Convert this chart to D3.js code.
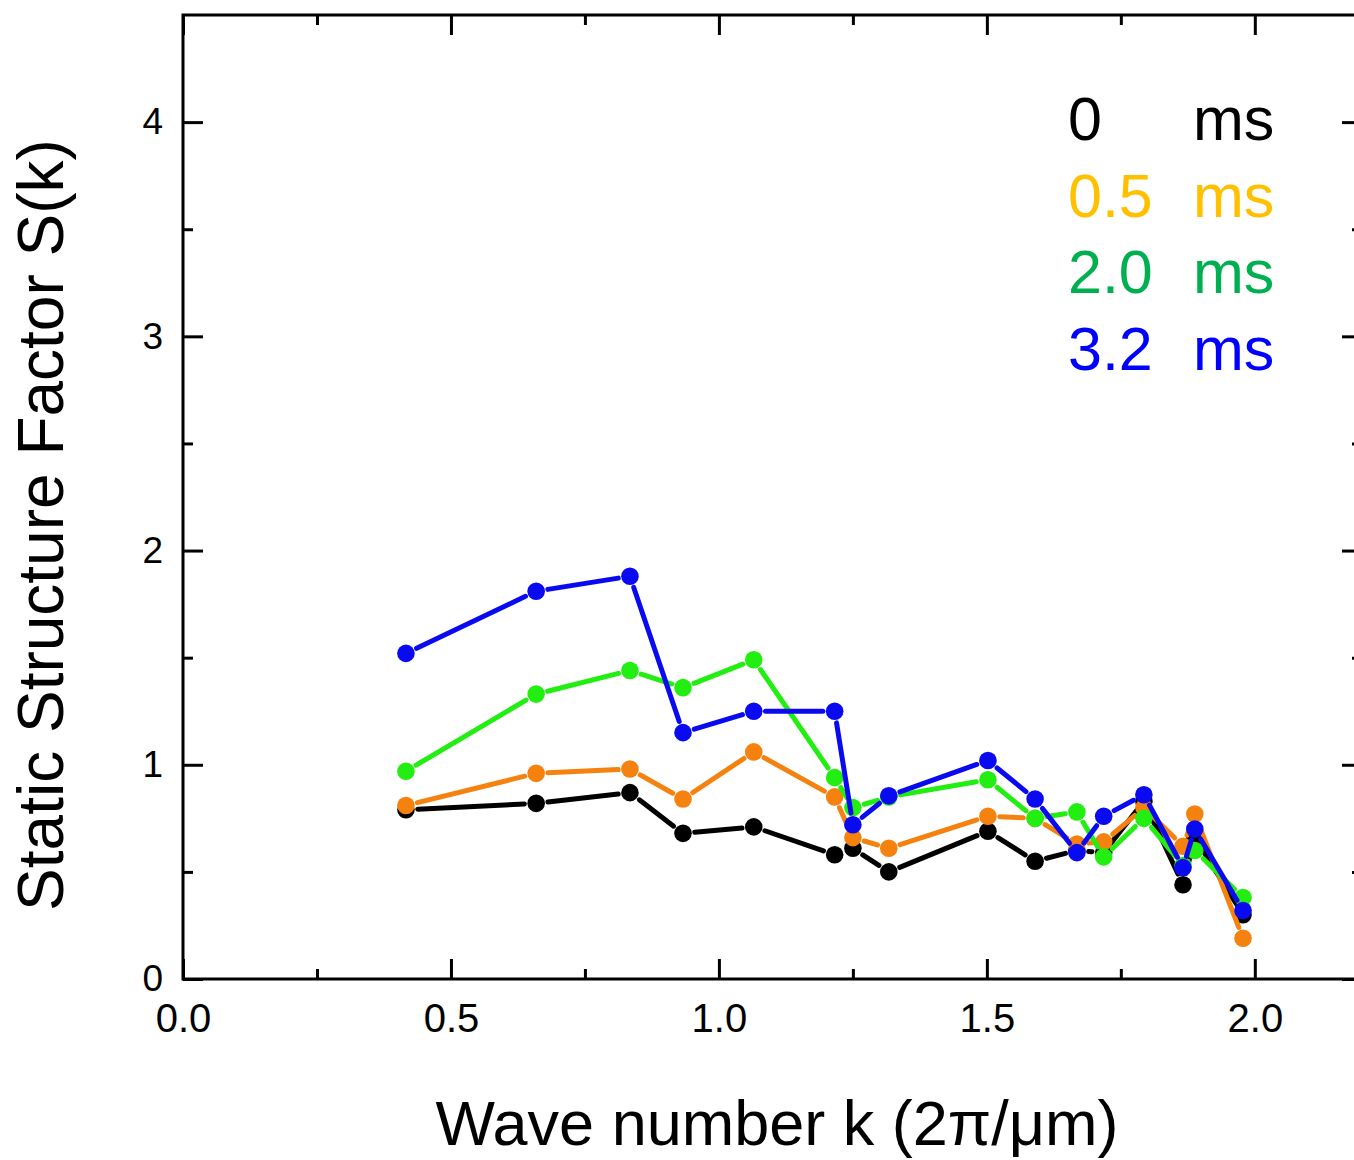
<!DOCTYPE html>
<html>
<head>
<meta charset="utf-8">
<script src="https://cdn.jsdelivr.net/npm/d3@7"></script>
<style>
  body { margin: 0; background: #fff; }
  svg { display: block; font-family: "Liberation Sans", Arial, sans-serif; }
</style>
</head>
<body>
<svg id="chart" width="1354" height="1160"></svg>
<script>
// wave numbers k (2pi/um)
var ks = [0.416, 0.659, 0.834, 0.933, 1.065, 1.216, 1.25, 1.317, 1.502, 1.59, 1.668, 1.718, 1.793, 1.866, 1.888, 1.978];

// S(k) per delay
var s0ms  = [0.79, 0.82, 0.87, 0.68, 0.71, 0.58, 0.61, 0.50, 0.69, 0.55, 0.60, 0.59, 0.83, 0.44, 0.66, 0.30];
var s05ms = [0.81, 0.96, 0.98, 0.84, 1.06, 0.85, 0.66, 0.61, 0.76, 0.75, 0.63, 0.64, 0.80, 0.62, 0.77, 0.19];
var s20ms = [0.97, 1.33, 1.44, 1.36, 1.49, 0.94, 0.80, 0.85, 0.93, 0.75, 0.78, 0.57, 0.75, 0.53, 0.60, 0.38];
var s32ms = [1.52, 1.81, 1.88, 1.15, 1.25, 1.25, 0.72, 0.855, 1.02, 0.84, 0.59, 0.76, 0.86, 0.52, 0.70, 0.32];

var seriesNames = ["0", "0.5", "2.0", "3.2"];
var xTicks = [0, 0.5, 1.0, 1.5, 2.0];
var yTicks = [0, 1, 2, 3, 4];

var lineColors   = ["#000000", "#f5820f", "#22ee11", "#0a0af0"];
var legendColors = ["#000000", "#ffc000", "#00b050", "#0000ff"];

var svg = d3.select("#chart");
var margin = { top: 15, left: 183, bottom: 181, right: -8 };
var width = 1354, height = 1160;

var x = d3.scaleLinear().domain([0, 2.2]).range([margin.left, width - margin.right]);
var y = d3.scaleLinear().domain([0, 4.5]).range([height - margin.bottom, margin.top]);

var series = [s0ms, s05ms, s20ms, s32ms];

// minor ticks
var xMinor = d3.range(0.25, 2.2, 0.5);
var yMinor = d3.range(0.5, 4.5, 1);

function styleAxis(g) {
  g.select(".domain").remove();
  g.selectAll(".tick line").attr("stroke", "#000").attr("stroke-width", 3);
}

// bottom
svg.append("g")
  .attr("transform", `translate(0,${y(0)})`)
  .call(d3.axisBottom(x).tickValues(xTicks).tickSize(-20).tickPadding(25).tickFormat(d3.format(".1f")))
  .call(styleAxis)
  .call(g => g.selectAll("text").attr("font-size", 40).attr("fill", "#000"));
svg.append("g")
  .attr("transform", `translate(0,${y(0)})`)
  .call(d3.axisBottom(x).tickValues(xMinor).tickSize(-10).tickFormat(""))
  .call(styleAxis);

// top
svg.append("g")
  .attr("transform", `translate(0,${y(4.5)})`)
  .call(d3.axisTop(x).tickValues(xTicks).tickSize(-20).tickFormat(""))
  .call(styleAxis);
svg.append("g")
  .attr("transform", `translate(0,${y(4.5)})`)
  .call(d3.axisTop(x).tickValues(xMinor).tickSize(-10).tickFormat(""))
  .call(styleAxis);

// left
svg.append("g")
  .attr("transform", `translate(${x(0)},0)`)
  .call(d3.axisLeft(y).tickValues(yTicks).tickSize(-20).tickPadding(20).tickFormat(d3.format("d")))
  .call(styleAxis)
  .call(g => g.selectAll("text").attr("font-size", 37).attr("fill", "#000"));
svg.append("g")
  .attr("transform", `translate(${x(0)},0)`)
  .call(d3.axisLeft(y).tickValues(yMinor).tickSize(-10).tickFormat(""))
  .call(styleAxis);

// right
svg.append("g")
  .attr("transform", `translate(${x(2.2)},0)`)
  .call(d3.axisRight(y).tickValues(yTicks).tickSize(-20).tickFormat(""))
  .call(styleAxis);
svg.append("g")
  .attr("transform", `translate(${x(2.2)},0)`)
  .call(d3.axisRight(y).tickValues(yMinor).tickSize(-10).tickFormat(""))
  .call(styleAxis);

// frame
svg.append("rect")
  .attr("x", x(0)).attr("y", y(4.5))
  .attr("width", x(2.2) - x(0)).attr("height", y(0) - y(4.5))
  .attr("fill", "none").attr("stroke", "#000").attr("stroke-width", 3);

// series: segments with a small gap at each symbol
var r = 8.8, gap = r + 3;
series.forEach(function(vals, i) {
  var pts = ks.map((k, j) => [x(k), y(vals[j])]);
  var g = svg.append("g").attr("class", "series");
  var segs = d3.pairs(pts).filter(function(p) {
    var dx = p[1][0] - p[0][0], dy = p[1][1] - p[0][1];
    return Math.hypot(dx, dy) > 2 * gap;
  });
  g.selectAll("line")
    .data(segs)
    .enter().append("line")
    .each(function(p) {
      var dx = p[1][0] - p[0][0], dy = p[1][1] - p[0][1];
      var len = Math.hypot(dx, dy), ux = dx / len, uy = dy / len;
      d3.select(this)
        .attr("x1", p[0][0] + ux * gap).attr("y1", p[0][1] + uy * gap)
        .attr("x2", p[1][0] - ux * gap).attr("y2", p[1][1] - uy * gap);
    })
    .attr("stroke", lineColors[i])
    .attr("stroke-width", 5)
    .attr("stroke-linecap", "round");
  g.selectAll("circle")
    .data(pts)
    .enter().append("circle")
    .attr("cx", d => d[0]).attr("cy", d => d[1])
    .attr("r", r)
    .attr("fill", lineColors[i]);
});

// legend
var legendY = [140, 217, 293, 370];
seriesNames.forEach(function(name, i) {
  svg.append("text")
    .attr("x", 1068).attr("y", legendY[i])
    .attr("font-size", 61).attr("fill", legendColors[i])
    .text(name);
  svg.append("text")
    .attr("x", 1193).attr("y", legendY[i])
    .attr("font-size", 61).attr("fill", legendColors[i])
    .text("ms");
});

// axis titles
svg.append("text")
  .attr("x", 777).attr("y", 1145)
  .attr("text-anchor", "middle")
  .attr("font-size", 63)
  .text("Wave number k (2π/μm)");

svg.append("text")
  .attr("transform", "translate(63,525) rotate(-90)")
  .attr("text-anchor", "middle")
  .attr("font-size", 64)
  .text("Static Structure Factor S(k)");
</script>
</body>
</html>
